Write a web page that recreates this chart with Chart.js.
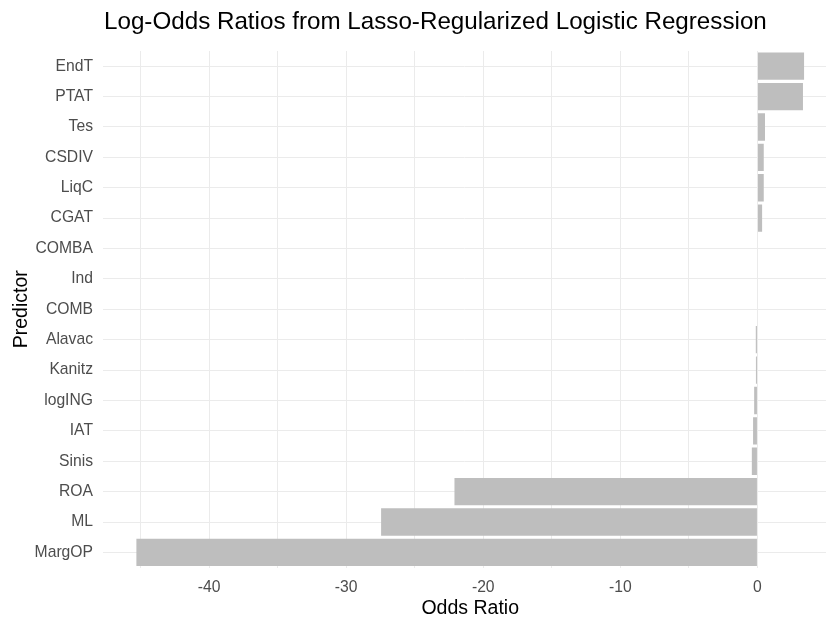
<!DOCTYPE html>
<html>
<head>
<meta charset="utf-8">
<script src="https://cdn.jsdelivr.net/npm/chart.js@4/dist/chart.umd.min.js"></script>
<style>
  html, body { margin: 0; padding: 0; background: #ffffff; }
  #wrap { width: 826px; height: 619px; position: relative; }
</style>
</head>
<body>
<div id="wrap"><canvas id="chart" width="826" height="619"></canvas></div>
<script>
// Lasso logistic regression coefficients (log-odds), top to bottom
const predictors = ["EndT", "PTAT", "Tes", "CSDIV", "LiqC", "CGAT", "COMBA", "Ind", "COMB",
                    "Alavac", "Kanitz", "logING", "IAT", "Sinis", "ROA", "ML", "MargOP"];
const coefficients = [3.40, 3.32, 0.55, 0.46, 0.46, 0.34, 0, 0, 0,
                      -0.12, -0.11, -0.24, -0.32, -0.41, -22.1, -27.45, -45.3];
const xTicks = [-45, -40, -35, -30, -25, -20, -15, -10, -5, 0, 5];
const xLabelled = [-40, -30, -20, -10, 0];

const titleText = "Log-Odds Ratios from Lasso-Regularized Logistic Regression";
const xTitleText = "Odds Ratio";
const FONT = '"Liberation Sans", Arial, sans-serif';

// Data extent padded by 5% on each side; the x title is centred on it
const dataMin = Math.min(...coefficients), dataMax = Math.max(...coefficients);
const pad = (dataMax - dataMin) * 0.05;
const xMin = dataMin - pad;
const xCentre = (dataMin - pad + dataMax + pad) / 2;

// Plot title flush with the panel's left edge, and the x-axis title
const panelTitles = {
  id: 'panelTitles',
  afterDraw(chart) {
    const ctx = chart.ctx;
    ctx.save();
    ctx.fillStyle = '#000000';
    ctx.textBaseline = 'middle';
    ctx.font = '24.2px ' + FONT;
    ctx.textAlign = 'left';
    ctx.fillText(titleText, chart.chartArea.left + 1, 22);
    ctx.font = '19.5px ' + FONT;
    ctx.textAlign = 'center';
    ctx.fillText(xTitleText, chart.scales.x.getPixelForValue(xCentre), 609);
    ctx.restore();
  }
};

const tickFont = { family: FONT, size: 15.7 };
const axisTitleFont = { family: FONT, size: 19.5 };

new Chart(document.getElementById('chart'), {
  type: 'bar',
  data: {
    labels: predictors,
    datasets: [{
      data: coefficients,
      backgroundColor: '#BEBEBE',
      borderWidth: 0,
      barPercentage: 0.9,
      categoryPercentage: 1.0
    }]
  },
  options: {
    indexAxis: 'y',
    responsive: false,
    animation: false,
    devicePixelRatio: 1,
    layout: { padding: { top: 51, right: 0, bottom: 0, left: 0 } },
    plugins: {
      legend: { display: false },
      tooltip: { enabled: false },
      title: { display: false }
    },
    scales: {
      x: {
        type: 'linear',
        min: xMin,
        max: 5,
        afterBuildTicks(scale) {
          scale.ticks = xTicks.map(v => ({ value: v }));
        },
        afterFit(scale) {
          scale.height = 51.4;
          scale.paddingLeft = 0;
          scale.paddingRight = 0;
        },
        border: { display: false },
        grid: { color: '#EBEBEB', lineWidth: 1, drawTicks: false },
        ticks: {
          autoSkip: false,
          maxRotation: 0,
          padding: 11,
          color: '#4D4D4D',
          font: tickFont,
          callback: (v) => xLabelled.includes(v) ? String(v) : ''
        },
        title: { display: false }
      },
      y: {
        type: 'category',
        offset: true,
        afterFit(scale) { scale.width = 103; },
        border: { display: false },
        grid: { color: '#EBEBEB', lineWidth: 1, drawTicks: false, offset: false },
        ticks: {
          autoSkip: false,
          padding: 10,
          color: '#4D4D4D',
          font: tickFont
        },
        title: {
          display: true,
          text: 'Predictor',
          color: '#000000',
          font: axisTitleFont,
          padding: { top: 10, bottom: 0 }
        }
      }
    }
  },
  plugins: [panelTitles]
});
</script>
</body>
</html>
